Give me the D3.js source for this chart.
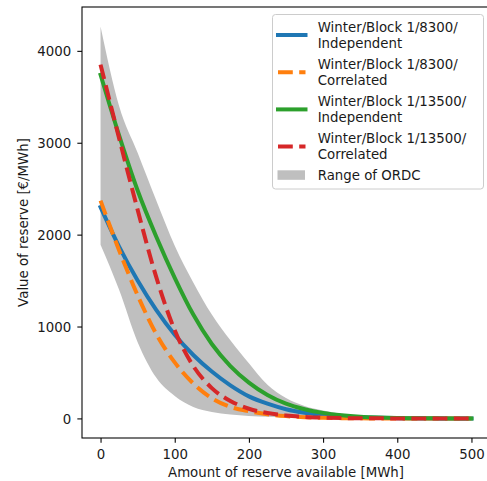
<!DOCTYPE html>
<html><head><meta charset="utf-8">
<script src="https://cdn.jsdelivr.net/npm/d3@7"></script>
<style>body{margin:0;background:#fff;overflow:hidden} text{font-family:"DejaVu Sans",sans-serif;fill:#1a1a1a}</style>
</head><body><svg id="c" width="487" height="481"></svg>
<script>
// ---- data ----
const amounts = [0,25,50,75,100,125,150,175,200,225,250,275,300,325,350,375,400,425,450,475,500];
const indep8300  = [2300,1870,1500,1180,910,690,510,360,240,160,100,62,38,22,12,6,3,1,0,0,0];
const corr8300   = [2370,1830,1340,920,610,380,220,125,78,45,25,12,6,3,1,0,0,0,0,0,0];
const indep13500 = [3740,3080,2480,1980,1530,1130,810,570,390,255,160,100,60,35,19,10,5,2,1,0,0];
const corr13500  = [3850,3050,2270,1540,960,570,330,190,105,58,32,17,9,4,2,1,0,0,0,0,0];
const ordcLow    = [1890,1400,830,445,245,125,70,42,27,17,10,5,2,1,0,0,0,0,0,0,0];
const ordcHigh   = [4264,3400,2890,2373,1880,1480,1130,850,600,365,222,135,87,50,25,13,5,2,0,0,0];
const seriesNames = ["Winter/Block 1/8300/\nIndependent","Winter/Block 1/8300/\nCorrelated",
                     "Winter/Block 1/13500/\nIndependent","Winter/Block 1/13500/\nCorrelated"];
const bandName = "Range of ORDC";
const xTicks = [0,100,200,300,400,500];
const yTicks = [0,1000,2000,3000,4000];
const xLabel = "Amount of reserve available [MWh]";
const yLabel = "Value of reserve [€/MWh]";

// ---- styles ----
const colors = ["#1f77b4","#ff7f0e","#2ca02c","#d62728"];
const dashed = [false,true,false,true];
const fs = 13.33, lw = 4, dash = "14.8,6.4";

const svg = d3.select("#c");
const L = 82, R = 490, T = 7, B = 438;

const xMin = d3.min(amounts), xMax = d3.max(amounts), xPad = (xMax-xMin)*0.05;
const x = d3.scaleLinear().domain([xMin-xPad, xMax+xPad]).range([L, R]);
const yMax = d3.max(ordcHigh), yMin = 0, yPad = (yMax-yMin)*0.05;
const y = d3.scaleLinear().domain([yMin-yPad, yMax+yPad]).range([B, T]);

const series = [indep8300, corr8300, indep13500, corr13500];

svg.append("clipPath").attr("id","pc").append("rect")
  .attr("x",L).attr("y",T).attr("width",R-L).attr("height",B-T);
const plot = svg.append("g").attr("clip-path","url(#pc)");

// band
const area = d3.area().x((d,i)=>x(amounts[i])).y0((d,i)=>y(ordcLow[i])).y1((d,i)=>y(ordcHigh[i]))
  .curve(d3.curveMonotoneX);
plot.append("path").datum(amounts).attr("d",area).attr("fill","#bfbfbf");

// lines
const line = d3.line().x((d,i)=>x(amounts[i])).y(d=>y(d)).curve(d3.curveMonotoneX);
series.forEach((s,k)=>{
  plot.append("path").datum(s).attr("d",line).attr("fill","none")
    .attr("stroke",colors[k]).attr("stroke-width",lw)
    .attr("stroke-linecap", dashed[k] ? "butt" : "square")
    .attr("stroke-dasharray", dashed[k] ? dash : null);
});

// spines
svg.append("rect").attr("x",L).attr("y",T).attr("width",R-L).attr("height",B-T)
  .attr("stroke","#000").attr("stroke-width",1.07).attr("fill","none");

// axes
const xa = svg.append("g").attr("transform",`translate(0,${B})`)
  .call(d3.axisBottom(x).tickValues(xTicks).tickSize(4.67).tickFormat(d3.format("d")));
xa.select(".domain").remove();
xa.selectAll("line").attr("stroke","#000").attr("stroke-width",1.07);
xa.selectAll("text").attr("y",21.3).attr("dy",null).attr("font-size",fs).attr("fill","#1a1a1a")
  .style("font-family","DejaVu Sans");

const ya = svg.append("g").attr("transform",`translate(${L},0)`)
  .call(d3.axisLeft(y).tickValues(yTicks).tickSize(4.67).tickFormat(d3.format("d")));
ya.select(".domain").remove();
ya.selectAll("line").attr("stroke","#000").attr("stroke-width",1.07);
ya.selectAll("text").attr("x",-10.8).attr("dy","0.36em").attr("font-size",fs).attr("fill","#1a1a1a")
  .style("font-family","DejaVu Sans");

svg.append("text").attr("x",(L+R)/2).attr("y",477.3).attr("text-anchor","middle")
  .attr("font-size",fs).text(xLabel);
svg.append("text").attr("transform",`translate(28,${(T+B)/2}) rotate(-90)`).attr("text-anchor","middle")
  .attr("font-size",fs).text(yLabel);

// legend
const lg = svg.append("g");
lg.append("rect").attr("x",272.5).attr("y",14.5).attr("width",211).attr("height",174.5)
  .attr("rx",3).attr("fill","#fff").attr("fill-opacity",0.8).attr("stroke","#cccccc").attr("stroke-width",1);
const step = 37.2, base0 = 31.5;
seriesNames.forEach((nm,k)=>{
  const b = base0 + k*step;
  lg.append("line").attr("x1",278).attr("x2",305.5).attr("y1",b+3.5).attr("y2",b+3.5)
    .attr("stroke",colors[k]).attr("stroke-width",lw)
    .attr("stroke-linecap", dashed[k] ? "butt" : "square")
    .attr("stroke-dasharray", dashed[k] ? dash : null);
  nm.split("\n").forEach((t,j)=>{
    lg.append("text").attr("x",317.7).attr("y",b+j*16).attr("font-size",fs).text(t);
  });
});
const bb = base0 + 4*step;
lg.append("rect").attr("x",277.5).attr("y",bb-10).attr("width",27.5).attr("height",9.5).attr("fill","#bfbfbf");
lg.append("text").attr("x",317.7).attr("y",bb).attr("font-size",fs).text(bandName);
</script></body></html>
